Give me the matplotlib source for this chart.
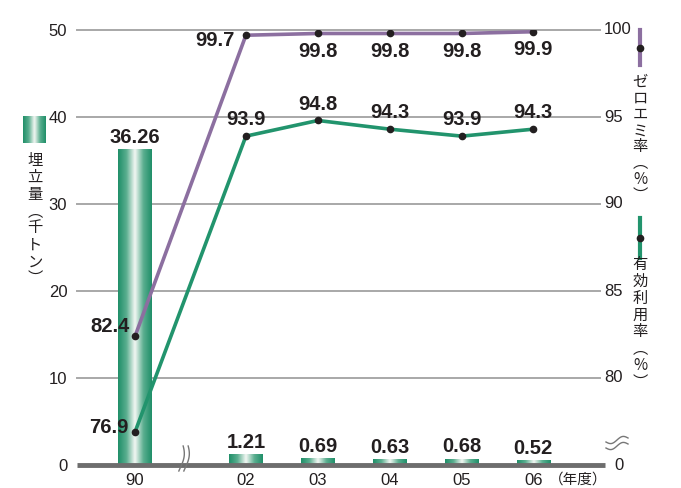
import numpy as np
import matplotlib
matplotlib.use("Agg")
import matplotlib.pyplot as plt
from matplotlib.colors import LinearSegmentedColormap

plt.rcParams['font.family'] = ['Liberation Sans', 'Noto Sans CJK JP', 'DejaVu Sans']

# ---- data ----
years = ["90", "02", "03", "04", "05", "06"]
landfill = [36.26, 1.21, 0.69, 0.63, 0.68, 0.52]          # 千トン
zero_emission = [82.4, 99.7, 99.8, 99.8, 99.8, 99.9]      # %
effective_use = [76.9, 93.9, 94.8, 94.3, 93.9, 94.3]      # %
left_ticks = [0, 10, 20, 30, 40, 50]
right_ticks = [80, 85, 90, 95, 100]

# ---- layout ----
xpos = [0, 1.54, 2.54, 3.54, 4.54, 5.53]
bar_w = 0.46
VAL_FS = 14.5
W, H = 681, 488
fig = plt.figure(figsize=(W / 100, H / 100), dpi=100)
axL, axR, axB, axT = 77, 600, 465, 30
XMIN = -0.806
XMAX = XMIN + (axR - axL) / 72.0
ax = fig.add_axes([axL / W, 1 - axB / H, (axR - axL) / W, (axB - axT) / H])
ax.set_xlim(XMIN, XMAX)
ax.set_ylim(0, 50)
for s in ax.spines.values():
    s.set_visible(False)

TXT = '#231f20'
GREEN = '#22946d'
PURPLE = '#8c6fa0'
GRID = '#a8a8a8'

# right-axis mapping: 75 -> 0, 100 -> 50
def r2l(v):
    return (np.asarray(v, dtype=float) - 75) * 2

# gridlines
for t in left_ticks[1:]:
    ax.plot([XMIN, XMAX], [t, t], color=GRID, lw=1.4, zorder=1, clip_on=False)
ax.plot([XMIN, XMAX + 5 / 72], [0, 0], color='#6d6d6d', lw=3.5, zorder=5, clip_on=False,
        solid_capstyle='butt')

# ticks
ax.set_xticks(xpos)
ax.set_xticklabels(years, fontsize=12, color=TXT)
ax.set_yticks(left_ticks)
ax.set_yticklabels([str(t) for t in left_ticks], fontsize=12, color=TXT)
ax.tick_params(axis='both', length=0)
ax.tick_params(axis='y', pad=7)
ax.tick_params(axis='x', pad=6)

# right labels
for t in right_ticks:
    fig.text(604 / W, 1 - (axB - r2l(t) / 50 * (axB - axT)) / H, str(t), ha='left', va='center',
             fontsize=12, color=TXT)
fig.text(614 / W, 1 - axB / H, "0", ha='left', va='center', fontsize=12, color=TXT)

# gradient bars
cmap = LinearSegmentedColormap.from_list('g', ['#1f8e68', '#5aae8f', '#f4f8f4', '#5aae8f', '#1f8e68'])
grad = np.linspace(0, 1, 256).reshape(1, -1)
for x, v in zip(xpos, landfill):
    ax.imshow(grad, cmap=cmap, extent=[x - bar_w / 2, x + bar_w / 2, 0, v],
              aspect='auto', zorder=2, interpolation='bicubic')
    ax.annotate(f"{v:.2f}", (x, v), xytext=(0, 2.0), textcoords='offset points',
                ha='center', va='bottom', fontsize=VAL_FS, fontweight='bold', color=TXT)
ax.set_xlim(XMIN, XMAX)
ax.set_ylim(0, 50)

# lines
ax.plot(xpos, r2l(zero_emission), color=PURPLE, lw=2.6, zorder=6)
ax.plot(xpos, r2l(effective_use), color=GREEN, lw=2.6, zorder=6)
ax.plot(xpos, r2l(zero_emission), 'o', color=TXT, ms=4.5, zorder=7)
ax.plot(xpos, r2l(effective_use), 'o', color=TXT, ms=4.5, zorder=7)

# line value labels
ze_off = [(-4, 7, 'right', 'center'), (-8, -4, 'right', 'center'), (0, -6, 'center', 'top'),
          (0, -6, 'center', 'top'), (0, -6, 'center', 'top'), (0, -6, 'center', 'top')]
for x, v, (dx, dy, ha, va) in zip(xpos, zero_emission, ze_off):
    ax.annotate(f"{v:.1f}", (x, r2l(v)), xytext=(dx, dy), textcoords='offset points',
                ha=ha, va=va, fontsize=VAL_FS, fontweight='bold', color=TXT, zorder=8)
eu_off = [(-5, 3, 'right', 'center'), (0, 5, 'center', 'bottom'), (0, 5, 'center', 'bottom'),
          (0, 5, 'center', 'bottom'), (0, 5, 'center', 'bottom'), (0, 5, 'center', 'bottom')]
for x, v, (dx, dy, ha, va) in zip(xpos, effective_use, eu_off):
    ax.annotate(f"{v:.1f}", (x, r2l(v)), xytext=(dx, dy), textcoords='offset points',
                ha=ha, va=va, fontsize=VAL_FS, fontweight='bold', color=TXT, zorder=8)

# x label (年度)
fig.text(578 / W, 1 - 480 / H, "（年度）", ha='center', va='center', fontsize=10.5,
         color=TXT, family=['Noto Sans CJK JP'])

# vertical text (single multi-line text objects)
def vtext(xpx, ytop, s, size=11, ls=1.0):
    fig.text(xpx / W, 1 - ytop / H, "\n".join(s), ha='center', va='top', ma='center',
             fontsize=size, color=TXT, linespacing=ls, family=['Noto Sans CJK JP', 'DejaVu Sans'])

vtext(35, 152, "埋立量︵千トン︶", ls=0.99)
vtext(640, 74, "ゼロエミ率︵%︶", ls=0.93)
vtext(640, 256, "有効利用率︵%︶", ls=0.99)

# legend: gradient square
lax = fig.add_axes([23 / W, 1 - 143 / H, 23 / W, 27 / H])
lax.imshow(grad, cmap=cmap, aspect='auto', interpolation='bicubic')
lax.axis('off')

# legend: line markers
for (y0, y1, yd, col) in [(30, 65, 48, PURPLE), (218, 258, 238, GREEN)]:
    fig.add_artist(plt.Line2D([640 / W, 640 / W], [1 - y0 / H, 1 - y1 / H], color=col, lw=3,
                              transform=fig.transFigure))
    fig.add_artist(plt.Line2D([640 / W], [1 - yd / H], marker='o', color=TXT, ms=4.5,
                              transform=fig.transFigure))

# break marks
t = np.linspace(0, 1, 40)
for dx in (-3, 2):
    xs = 185 + dx + 3 * np.sin(t * np.pi * 1.0 + 0.4) - 2 * t
    ys = 446 + 25 * t
    fig.add_artist(plt.Line2D(xs / W, 1 - ys / H, color='#777777', lw=1.0,
                              transform=fig.transFigure))
for dy in (0, 6):
    xs = 606 + 22 * t
    ys = 442 + dy + 2.5 * np.sin(t * 2 * np.pi) - 4 * t
    fig.add_artist(plt.Line2D(xs / W, 1 - ys / H, color='#777777', lw=1.0,
                              transform=fig.transFigure))

fig.savefig("out.png", dpi=100)
